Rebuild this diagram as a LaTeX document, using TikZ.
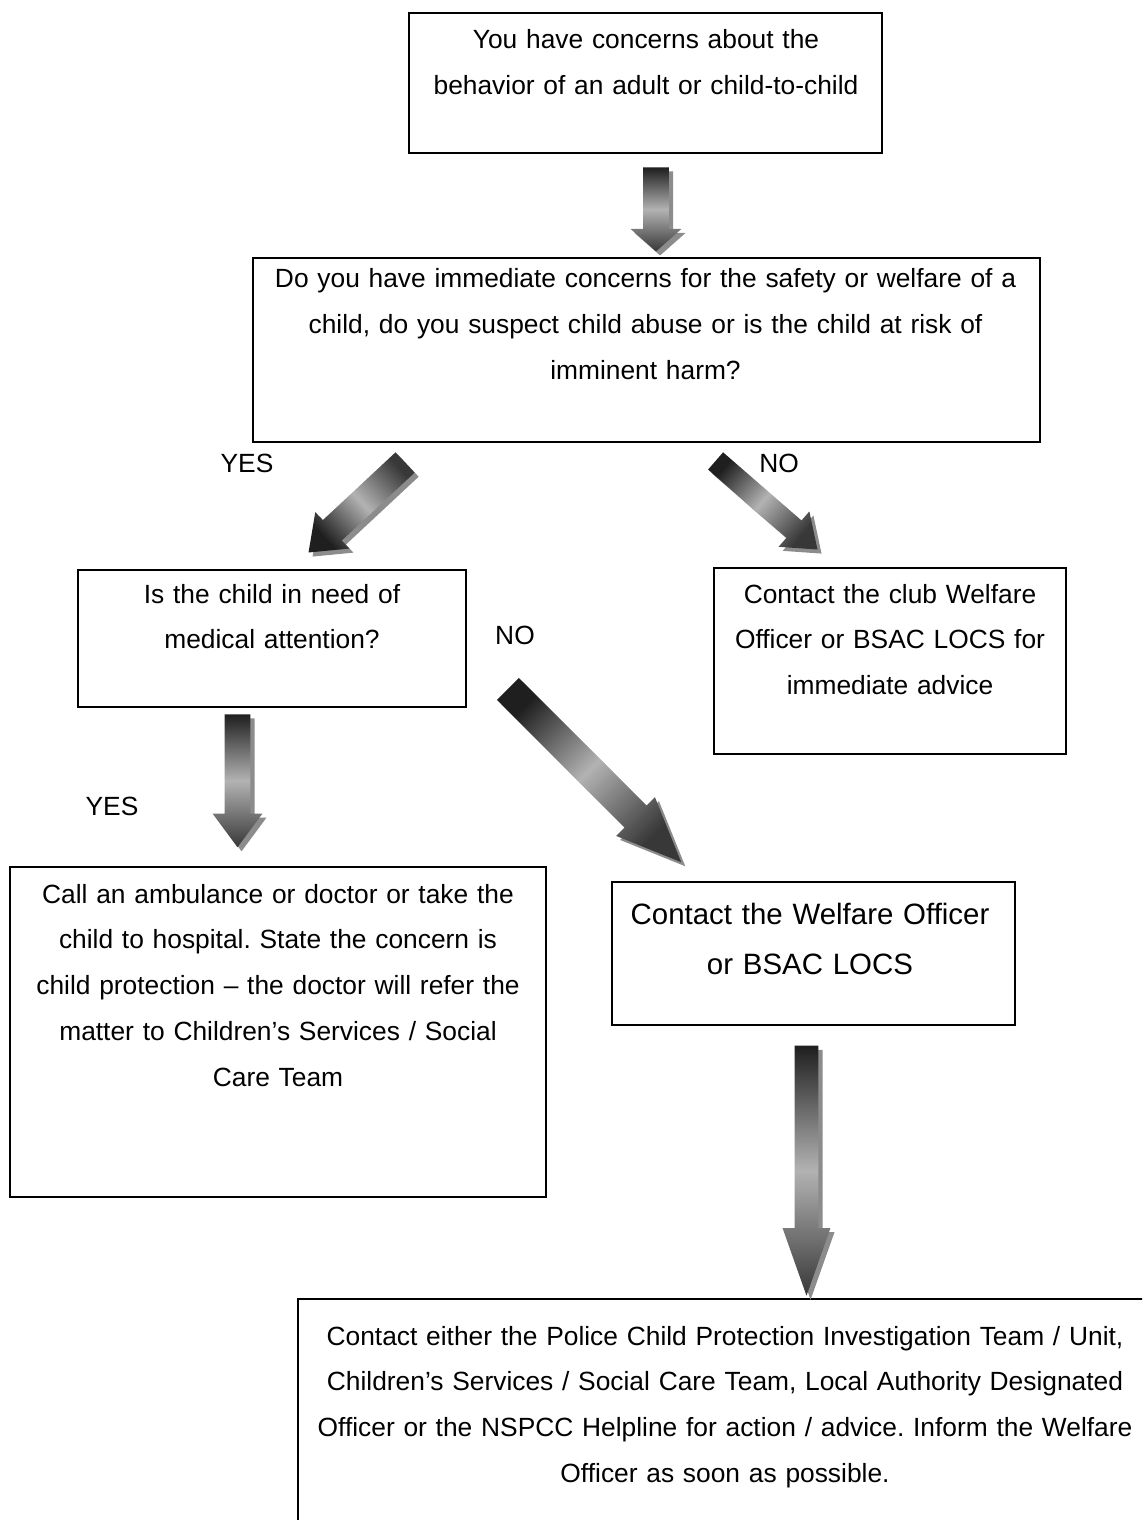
\documentclass[tikz,border=0pt]{standalone}
\usepackage{fontspec}
\setmainfont{Liberation Sans}
\usetikzlibrary{shapes.arrows}
\usetikzlibrary{shadows}

\newcommand{\pxu}{0.016cm}

\tikzset{
  box/.style={draw, line width=0.9pt, inner sep=0pt},
  boxtext/.style={anchor=base, inner sep=0pt, align=center, text width=#1*\pxu,
    font=\fontsize{12}{20.9}\selectfont},
  answer/.style={anchor=base, inner sep=0pt, font=\fontsize{12}{14}\selectfont},
  % rotation, length, shaft, head, tip angle, shading angle
  barrow/.style n args={6}{single arrow, draw=none, inner xsep=0pt, inner ysep=#3/2*\pxu,
    rotate=#1, minimum height=#2*\pxu, minimum width=#4*\pxu,
    single arrow head extend={(#4-#3)/2*\pxu}, single arrow tip angle=#5,
    top color=black!88, bottom color=black!78, middle color=black!30,
    shading angle=#6, anchor=tip,
    drop shadow={opacity=1, fill=black!45, shadow xshift=0.065cm, shadow yshift=-0.065cm}}
}

\begin{document}
\frenchspacing
\begin{tikzpicture}[x=\pxu, y=-\pxu]
\useasboundingbox (0,0) rectangle (1142,1520);
\clip (0,0) rectangle (1142,1520);

% boxes
\node[box, minimum width=473*\pxu, minimum height=140*\pxu] (b1) at (645.5,83) {};
\node[box, minimum width=787*\pxu, minimum height=184*\pxu] (b2) at (646.5,350) {};
\node[box, minimum width=388*\pxu, minimum height=137*\pxu] (b3) at (272,638.5) {};
\node[box, minimum width=352*\pxu, minimum height=186*\pxu] (b4) at (890,661) {};
\node[box, minimum width=536*\pxu, minimum height=330*\pxu] (b5) at (278,1032) {};
\node[box, minimum width=403*\pxu, minimum height=143*\pxu] (b6) at (813.5,953.5) {};
\node[box, minimum width=854*\pxu, minimum height=312*\pxu] (b7) at (725,1455) {};

% texts
\node[boxtext=460] (t1) at (646,49) {You have concerns about the\\behavior of an adult or child-to-child};
\node[boxtext=780] (t2) at (645.5,288) {Do you have immediate concerns for the safety or welfare of a\\child, do you suspect child abuse or is the child at risk of\\imminent harm?};
\node[boxtext=380] (t3) at (272,603) {Is the child in need of\\medical attention?};
\node[boxtext=345] (t4) at (890,603) {Contact the club Welfare\\Officer or BSAC LOCS for\\immediate advice};
\node[boxtext=530] (t5) at (278,903) {Call an ambulance or doctor or take the\\child to hospital. State the concern is\\child protection -- the doctor will refer the\\matter to Children’s Services / Social\\Care Team};
\node[boxtext=395, font=\fontsize{13.4}{23.2}\selectfont] (t6) at (810,924) {Contact the Welfare Officer\\or BSAC LOCS};
\node[boxtext=845] (t7) at (725,1345) {Contact either the Police Child Protection Investigation Team / Unit,\\Children’s Services / Social Care Team, Local Authority Designated\\Officer or the NSPCC Helpline for action / advice. Inform the Welfare\\Officer as soon as possible.};

% yes / no
\node[answer] (yes1) at (247,472) {YES};
\node[answer] (no1) at (779,472) {NO};
\node[answer] (no2) at (515,644) {NO};
\node[answer] (yes2) at (112,815) {YES};

% tips of the block arrows
\coordinate (p1) at (656,252);
\coordinate (p2) at (308,553);
\coordinate (p3) at (818,550);
\coordinate (p4) at (237.5,848);
\coordinate (p5) at (682,863);
\coordinate (p6) at (806.5,1297);

% block arrows
\node[barrow={-90}{84}{25}{50}{97}{0}] (a1) at (p1) {};
\node[barrow={223}{132}{27}{49}{75}{133}] (a2) at (p2) {};
\node[barrow={-41}{135}{22}{46}{74}{49}] (a3) at (p3) {};
\node[barrow={-90}{133}{25}{49}{73}{0}] (a4) at (p4) {};
\node[barrow={-45}{245}{30}{54}{46}{45}] (a5) at (p5) {};
\node[barrow={-90}{250}{23}{47}{39}{0}] (a6) at (p6) {};

\end{tikzpicture}
\end{document}
